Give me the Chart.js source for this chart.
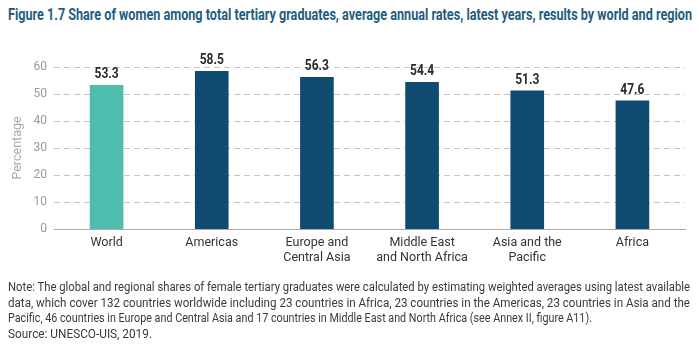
<!DOCTYPE html>
<html>
<head>
<meta charset="utf-8">
<script src="https://cdn.jsdelivr.net/npm/chart.js@4/dist/chart.umd.min.js"></script>
<style>
  html, body { margin: 0; padding: 0; background: #fff; }
  body { width: 700px; height: 350px; position: relative; overflow: hidden; }
  .title {
    position: absolute; left: 8px; top: 5px;
    font-family: Roboto, "Liberation Sans", sans-serif;
    font-weight: bold; font-size: 16.5px; color: #1f5d7f; white-space: nowrap;
    transform-origin: left top;
  }
  .chartbox { position: absolute; left: 0; top: 40px; width: 700px; height: 240px; }
  .note {
    position: absolute; left: 8px; top: 279px;
    font-family: Roboto, "Liberation Sans", sans-serif;
    font-size: 12.5px; color: #3a3a3a; line-height: 15.5px;
  }
  .note div { white-space: nowrap; width: max-content; transform-origin: left top; }
</style>
</head>
<body>
<div class="title" data-fit="684">Figure 1.7 Share of women among total tertiary graduates, average annual rates, latest years, results by world and region</div>
<div class="chartbox"><canvas id="chart"></canvas></div>
<div class="note">
  <div data-fit="682">Note: The global and regional shares of female tertiary graduates were calculated by estimating weighted averages using latest available</div>
  <div data-fit="682">data, which cover 132 countries worldwide including 23 countries in Africa, 23 countries in the Americas, 23 countries in Asia and the</div>
  <div data-fit="584">Pacific, 46 countries in Europe and Central Asia and 17 countries in Middle East and North Africa (see Annex II, figure A11).</div>
  <div data-fit="144">Source: UNESCO-UIS, 2019.</div>
</div>
<script>
const regions = [['World'], ['Americas'], ['Europe and', 'Central Asia'], ['Middle East', 'and North Africa'], ['Asia and the', 'Pacific'], ['Africa']];
const shares = [53.3, 58.5, 56.3, 54.4, 51.3, 47.6];
const barColors = ['#4fbdae', '#114a70', '#114a70', '#114a70', '#114a70', '#114a70'];

// squeeze the condensed-looking text lines to the widths in the picture
document.querySelectorAll('[data-fit]').forEach(el => {
    const w = el.getBoundingClientRect().width;
    el.style.transform = `scaleX(${Number(el.dataset.fit) / w})`;
});

// dashed horizontal grid lines at the y ticks (0 is the solid axis line)
const dashedGrid = {
    id: 'dashedGrid',
    beforeDatasetsDraw(chart) {
        const ctx = chart.ctx;
        const y = chart.scales.y;
        const area = chart.chartArea;
        ctx.save();
        ctx.strokeStyle = '#c4c4c4';
        ctx.lineWidth = 1;
        ctx.setLineDash([6, 4]);
        y.ticks.forEach(t => {
            if (t.value === 0) return;
            const py = Math.round(y.getPixelForValue(t.value)) + 0.5;
            ctx.beginPath();
            ctx.moveTo(area.left, py);
            ctx.lineTo(area.right, py);
            ctx.stroke();
        });
        ctx.restore();
    }
};

// value labels above the bars
const valueLabels = {
    id: 'valueLabels',
    afterDatasetsDraw(chart) {
        const ctx = chart.ctx;
        const meta = chart.getDatasetMeta(0);
        ctx.save();
        ctx.font = 'bold 15px Roboto, "Liberation Sans", sans-serif';
        ctx.fillStyle = '#2a2a2a';
        ctx.textAlign = 'center';
        ctx.textBaseline = 'bottom';
        meta.data.forEach((bar, i) => {
            ctx.save();
            ctx.translate(bar.x, bar.y - 3);
            ctx.scale(0.8, 1);
            ctx.fillText(shares[i].toFixed(1), 0, 0);
            ctx.restore();
        });
        ctx.restore();
    }
};

const chartCanvas = document.getElementById('chart');
const myChart = new Chart(chartCanvas, {
    type: 'bar',
    data: {
        labels: regions,
        datasets: [{
            data: shares,
            backgroundColor: barColors,
            categoryPercentage: 1,
            barPercentage: 0.32
        }]
    },
    options: {
        responsive: true,
        maintainAspectRatio: false,
        animation: false,
        layout: { padding: { top: 27, right: 15, left: 6, bottom: 9 } },
        plugins: { legend: { display: false }, tooltip: { enabled: false } },
        scales: {
            x: {
                grid: { display: false, drawTicks: false },
                border: { color: '#aaaaaa' },
                ticks: {
                    color: '#333',
                    padding: 6,
                    maxRotation: 0,
                    font: { family: 'Roboto, "Liberation Sans", sans-serif', size: 12.5 }
                }
            },
            y: {
                min: 0, max: 60,
                afterFit: (scale) => { scale.width = 48; },
                grid: { display: false, drawTicks: false },
                border: { display: false },
                ticks: {
                    stepSize: 10,
                    color: '#999',
                    padding: 7,
                    font: { family: 'Roboto, "Liberation Sans", sans-serif', size: 12 }
                },
                title: {
                    display: true, text: 'Percentage', color: '#aaa',
                    font: { family: 'Roboto, "Liberation Sans", sans-serif', size: 12.5 }
                }
            }
        }
    },
    plugins: [dashedGrid, valueLabels]
});
</script>
</body>
</html>
